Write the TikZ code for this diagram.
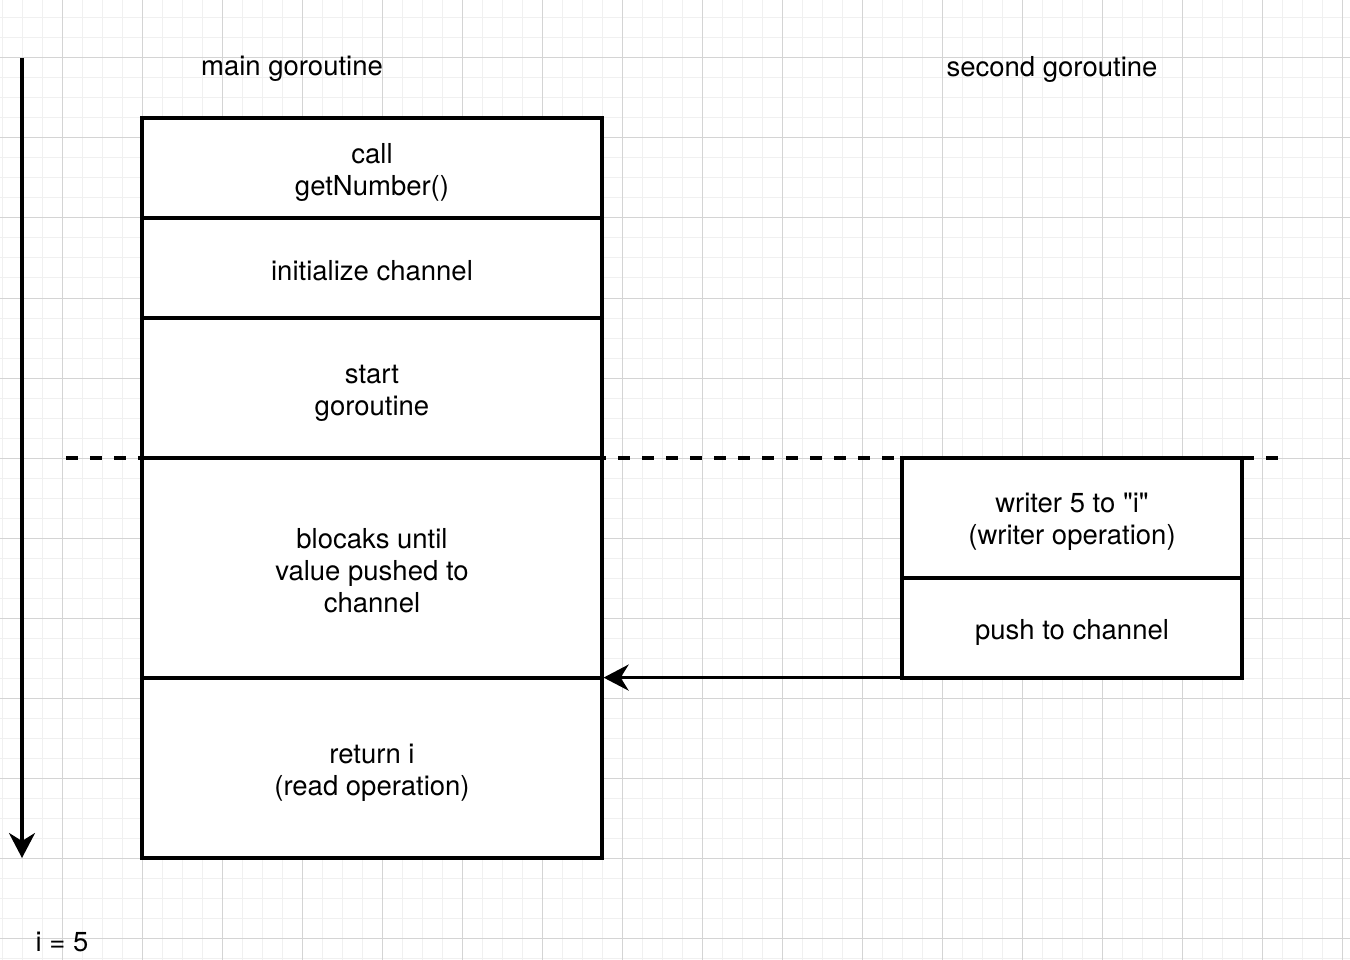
\documentclass[tikz,border=0pt]{standalone}
\usepackage{fontspec}
\setmainfont{TeX Gyre Heros}[Ligatures=TeXOff]
\usetikzlibrary{arrows.meta}

\begin{document}
\begin{tikzpicture}[x=1pt, y=-1pt,
    box/.style={draw, line width=3.2pt, fill=white, minimum width=460pt, inner sep=0pt},
    sidebox/.style={box, minimum width=340pt},
    txt/.style={align=center, font=\fontsize{27.5}{32}\selectfont, inner sep=0pt},
    flow/.style={line width=3.4pt, -{Stealth[length=25pt, width=26pt, inset=8pt]}},
]
        \useasboundingbox (0, 0) rectangle (1350, 960);
        \fill[white] (0, 0) rectangle (1350, 960);

        % grid
        \foreach \x in {2, 22, ..., 1342}
            \draw[color=black!6, line width=1pt] (\x, 0) -- (\x, 960);
        \foreach \y in {18, 38, ..., 958}
            \draw[color=black!6, line width=1pt] (0, \y) -- (1350, \y);
        \foreach \x in {62, 142, ..., 1342}
            \draw[color=black!17, line width=1pt] (\x, 0) -- (\x, 960);
        \foreach \y in {58, 138, ..., 938}
            \draw[color=black!17, line width=1pt] (0, \y) -- (1350, \y);

        % main goroutine
        \node[box, minimum height=100pt] (call) at (372, 168) {};
        \node[box, minimum height=100pt] (init) at (372, 268) {};
        \node[box, minimum height=140pt] (start) at (372, 388) {};
        \node[box, minimum height=220pt] (block) at (372, 568) {};
        \node[box, minimum height=180pt] (ret) at (372, 768) {};

        \node[txt] (calltext) at ([yshift=-4pt]call) {call\\getNumber()};
        \node[txt] (inittext) at ([yshift=-3pt]init) {initialize channel};
        \node[txt] (starttext) at ([yshift=-5pt]start) {start\\goroutine};
        \node[txt] (blocktext) at ([yshift=-3pt]block) {blocaks until\\value pushed to\\channel};
        \node[txt] (rettext) at ([yshift=-5pt]ret) {return i\\(read operation)};

        % second goroutine
        \node[sidebox, minimum height=120pt] (write) at (1072, 518) {};
        \node[sidebox, minimum height=100pt] (push) at (1072, 628) {};

        \node[txt] (writetext) at ([yshift=-4pt]write) {writer 5 to "i"\\(writer operation)};
        \node[txt] (pushtext) at ([yshift=-4pt]push) {push to channel};

        \node[txt] (mainlbl) at (292, 69) {main goroutine};
        \node[txt] (secondlbl) at (1052, 69) {second goroutine};
        \node[txt] (ival) at (62, 942) {i = 5};

        % sync line
        \coordinate (syncl) at (66, 458);
        \coordinate (syncr) at (1280, 458);
        \draw[line width=3.2pt, dash pattern=on 12pt off 12pt] (syncl) -- (syncr);

        % time axis
        \coordinate (tstart) at (22, 58);
        \coordinate (tend) at (22, 858);
        \draw[flow] (tstart) -- (tend);

        \draw[flow] ([yshift=2pt]push.south west) -- ([yshift=2pt]block.south east);
    \end{tikzpicture}
\end{document}
